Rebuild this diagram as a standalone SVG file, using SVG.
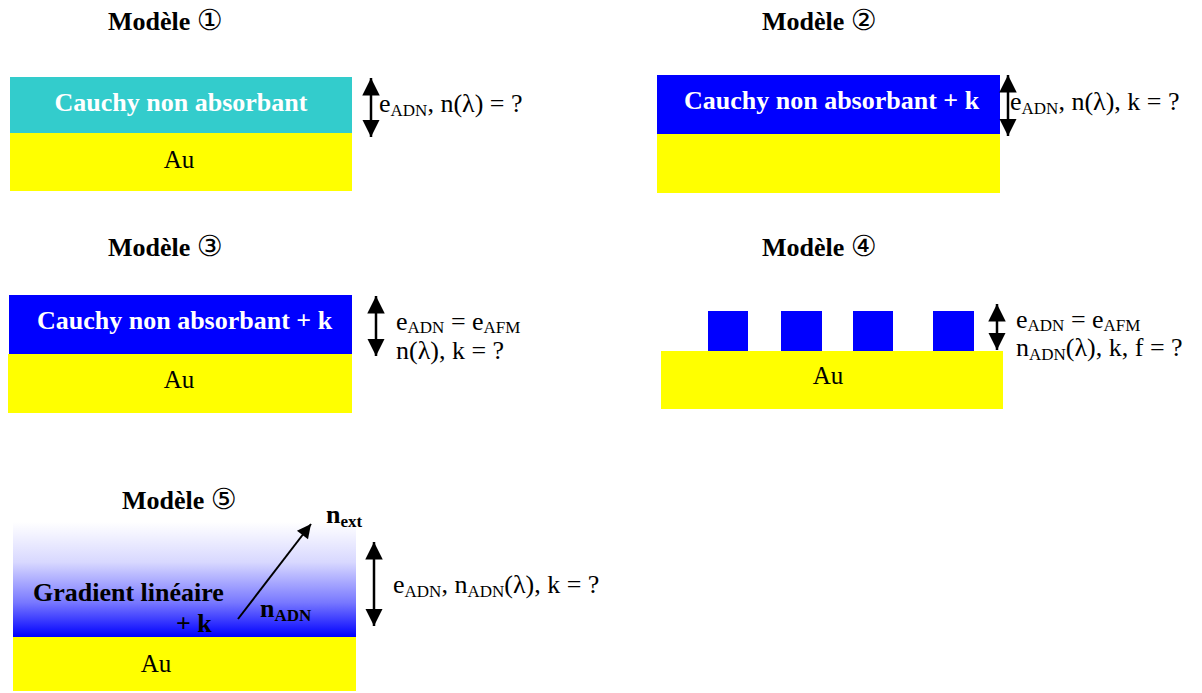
<svg xmlns="http://www.w3.org/2000/svg" width="1202" height="693" viewBox="0 0 1202 693">
<style>
text{font-family:"Liberation Serif","Times New Roman",serif;fill:#000}
.title{font-size:26px;font-weight:bold}
.circ{font-family:"DejaVu Sans",sans-serif;font-weight:normal;font-size:29px}
.lay{font-size:26px;font-weight:bold;fill:#fff}
.au{font-size:25px;text-anchor:middle}
.lbl{font-size:26px}
.sub{font-size:17px}
.dim{stroke:#000;stroke-width:2.5;fill:none;marker-start:url(#ah);marker-end:url(#ah)}
</style>
<defs>
<marker id="ah" viewBox="0 0 10 10" refX="10" refY="5" markerWidth="7" markerHeight="7" markerUnits="strokeWidth" orient="auto-start-reverse">
<path d="M0,0 L10,5 L0,10 z" fill="#000"/>
</marker>
<marker id="ah1" viewBox="0 0 10 10" refX="10" refY="5" markerWidth="8" markerHeight="7" markerUnits="strokeWidth" orient="auto">
<path d="M0,0 L10,5 L0,10 z" fill="#000"/>
</marker>
<linearGradient id="grad" x1="0" y1="0" x2="0" y2="1">
<stop offset="0" stop-color="#ffffff"/>
<stop offset="0.35" stop-color="#d8d8ff"/>
<stop offset="0.7" stop-color="#7878ff"/>
<stop offset="1" stop-color="#0000ff"/>
</linearGradient>
</defs>

<g id="model1">
<text class="title" x="108" y="30">Modèle <tspan class="circ">①</tspan></text>
<rect x="10" y="77" width="342" height="56" fill="#33cccc"/>
<rect x="10" y="133" width="342" height="58" fill="#ffff00"/>
<text class="lay" x="181" y="111" text-anchor="middle">Cauchy non absorbant</text>
<text class="au" x="179" y="168">Au</text>
<text class="lbl" x="379" y="112">e<tspan class="sub" dy="4">ADN</tspan><tspan dy="-4">, n(λ) = ?</tspan></text>
</g>

<g id="model2">
<text class="title" x="762" y="30">Modèle <tspan class="circ">②</tspan></text>
<rect x="657" y="75" width="343" height="59" fill="#0000ff"/>
<rect x="657" y="134" width="343" height="59" fill="#ffff00"/>
<text class="lay" x="684" y="109">Cauchy non absorbant + k</text>
<text class="lbl" x="1010" y="110">e<tspan class="sub" dy="4">ADN</tspan><tspan dy="-4">, n(λ), k = ?</tspan></text>
</g>

<g id="model3">
<text class="title" x="108" y="256">Modèle <tspan class="circ">③</tspan></text>
<rect x="9" y="295" width="343" height="59" fill="#0000ff"/>
<rect x="8" y="354" width="344" height="59" fill="#ffff00"/>
<text class="lay" x="37" y="329">Cauchy non absorbant + k</text>
<text class="au" x="179" y="388">Au</text>
<text class="lbl" x="396" y="330">e<tspan class="sub" dy="3">ADN</tspan><tspan dy="-3"> = e</tspan><tspan class="sub" dy="3">AFM</tspan></text>
<text class="lbl" x="396" y="359">n(λ), k = ?</text>
</g>

<g id="model4">
<text class="title" x="762" y="256">Modèle <tspan class="circ">④</tspan></text>
<rect x="708" y="311" width="40" height="40" fill="#0000ff"/>
<rect x="781" y="311" width="41" height="40" fill="#0000ff"/>
<rect x="853" y="311" width="40" height="40" fill="#0000ff"/>
<rect x="933" y="311" width="41" height="40" fill="#0000ff"/>
<rect x="661" y="351" width="342" height="58" fill="#ffff00"/>
<text class="au" x="828" y="384">Au</text>
<text class="lbl" x="1016" y="328">e<tspan class="sub" dy="3">ADN</tspan><tspan dy="-3"> = e</tspan><tspan class="sub" dy="3">AFM</tspan></text>
<text class="lbl" x="1016" y="356">n<tspan class="sub" dy="4">ADN</tspan><tspan dy="-4">(λ), k, f = ?</tspan></text>
</g>

<g id="model5">
<text class="title" x="122" y="509">Modèle <tspan class="circ">⑤</tspan></text>
<rect x="13" y="522" width="343" height="115" fill="url(#grad)"/>
<rect x="13" y="637" width="343" height="54" fill="#ffff00"/>
<text class="lay" x="33" y="601" style="fill:#000">Gradient linéaire</text>
<text class="lay" x="176" y="632" style="fill:#000">+ k</text>
<text class="au" x="156" y="672">Au</text>
<text class="lbl" x="326" y="523" style="font-weight:bold">n<tspan class="sub" dy="4">ext</tspan></text>
<text class="lbl" x="260" y="617" style="font-weight:bold">n<tspan class="sub" dy="4">ADN</tspan></text>
<text class="lbl" x="393" y="593">e<tspan class="sub" dy="4">ADN</tspan><tspan dy="-4">, n</tspan><tspan class="sub" dy="4">ADN</tspan><tspan dy="-4">(λ), k = ?</tspan></text>
</g>

<g id="connectors">
<line class="dim" x1="371" y1="78" x2="371" y2="137"/>
<line class="dim" x1="1008" y1="75" x2="1008" y2="136"/>
<line class="dim" x1="376" y1="296" x2="376" y2="356"/>
<line class="dim" x1="997" y1="304" x2="997" y2="350"/>
<line class="dim" x1="374" y1="542" x2="374" y2="626"/>
<line x1="238" y1="619" x2="311" y2="524" stroke="#000" stroke-width="2" marker-end="url(#ah1)"/>
</g>
</svg>
